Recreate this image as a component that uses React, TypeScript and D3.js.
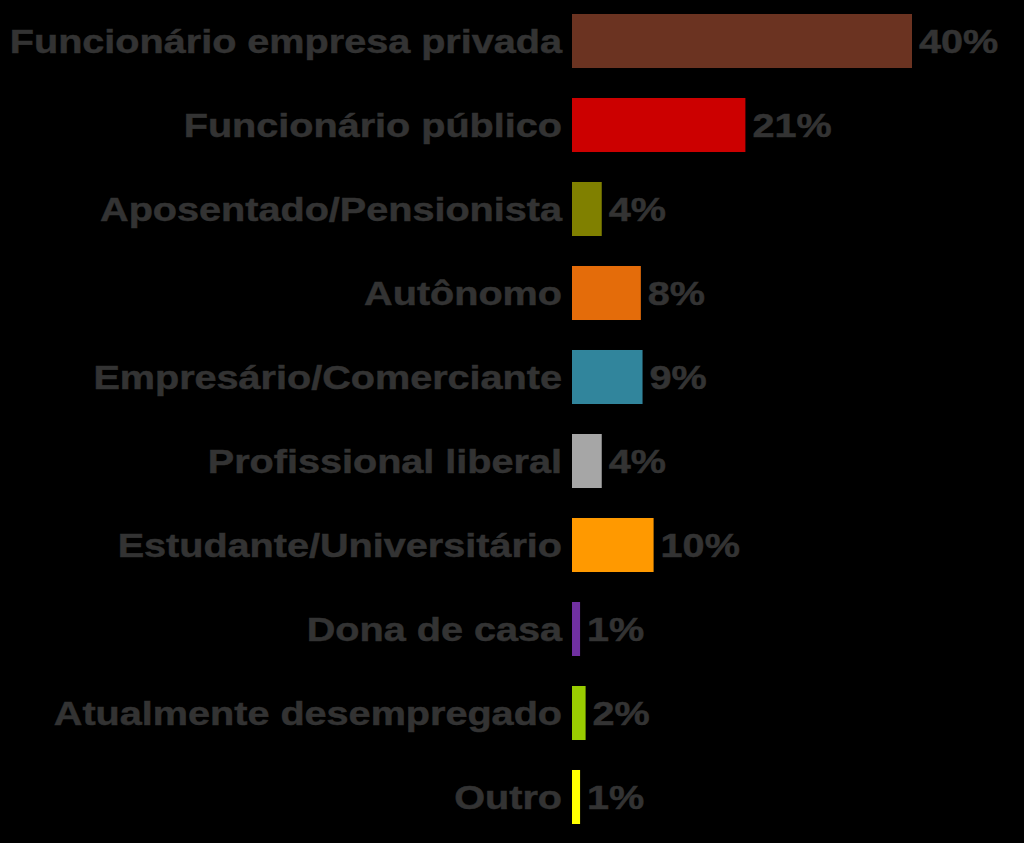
import React, { useEffect, useRef } from 'react';
import * as d3 from 'd3';

const categories = [
  'Funcionário empresa privada',
  'Funcionário público',
  'Aposentado/Pensionista',
  'Autônomo',
  'Empresário/Comerciante',
  'Profissional liberal',
  'Estudante/Universitário',
  'Dona de casa',
  'Atualmente desempregado',
  'Outro',
];

// bar lengths (percent)
const values = [40, 20.4, 3.5, 8.1, 8.3, 3.5, 9.6, 0.95, 1.6, 0.95];

// printed labels
const valueLabels = ['40%', '21%', '4%', '8%', '9%', '4%', '10%', '1%', '2%', '1%'];

const colors = [
  '#6b3321', '#cc0000', '#808000', '#e46c0a', '#31859c',
  '#a6a6a6', '#ff9900', '#7030a0', '#99cc00', '#ffff00',
];

const W = 1024;
const H = 843;
const STRETCH = 1.2; // text in the source is stretched horizontally

export default function App() {
  const svgRef = useRef<SVGSVGElement>(null);

  useEffect(() => {
    document.body.style.margin = '0';
    document.body.style.background = '#000';
    if (!svgRef.current) return;

    const svg = d3.select(svgRef.current);
    svg.selectAll('*').remove();

    const x0 = 572;
    const x = d3.scaleLinear().domain([0, 50]).range([x0, x0 + 425]);
    const y = d3.scaleBand<string>()
      .domain(categories)
      .range([-1, 839])
      .paddingInner(0.357)
      .paddingOuter(0.1785);

    svg.append('rect')
      .attr('width', W)
      .attr('height', H)
      .attr('fill', '#000');

    const rows = svg.append('g')
      .selectAll('g')
      .data(categories)
      .join('g');

    rows.append('rect')
      .attr('x', x(0))
      .attr('y', (d) => y(d)!)
      .attr('width', (_d, i) => x(values[i]) - x(0))
      .attr('height', y.bandwidth())
      .attr('fill', (_d, i) => colors[i]);

    const font = "'Liberation Sans', Arial, sans-serif";

    // category labels
    rows.append('text')
      .attr('transform', (d) =>
        `translate(${x(0) - 10},${y(d)! + y.bandwidth() / 2}) scale(${STRETCH},1)`)
      .attr('dy', '0.36em')
      .attr('text-anchor', 'end')
      .style('font-family', font)
      .style('font-weight', 'bold')
      .style('font-size', '33px')
      .attr('fill', '#333333')
      .attr('stroke', '#333333')
      .attr('stroke-width', 0.5)
      .text((d) => d);

    // value labels
    rows.append('text')
      .attr('transform', (d, i) =>
        `translate(${x(values[i]) + 7},${y(d)! + y.bandwidth() / 2}) scale(${STRETCH},1)`)
      .attr('dy', '0.36em')
      .style('font-family', font)
      .style('font-weight', 'bold')
      .style('font-size', '33px')
      .attr('fill', '#333333')
      .attr('stroke', '#333333')
      .attr('stroke-width', 0.5)
      .text((_d, i) => valueLabels[i]);
  }, []);

  return (
    <div style={{ position: 'absolute', left: 0, top: 0 }}>
      <svg ref={svgRef} width={W} height={H} style={{ display: 'block' }} />
    </div>
  );
}
